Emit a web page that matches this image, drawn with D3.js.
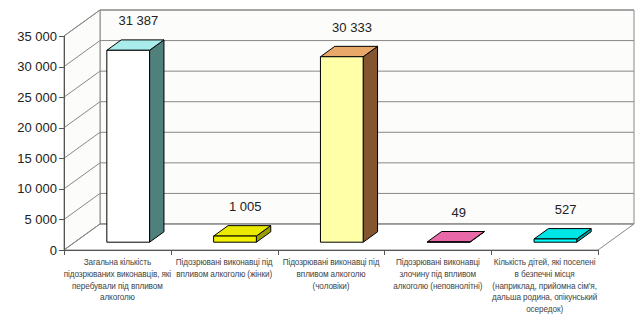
<!DOCTYPE html>
<html>
<head>
<meta charset="utf-8">
<script src="https://cdn.jsdelivr.net/npm/d3@7"></script>
<style>
  body { margin: 0; background: #fff; }
  svg { display: block; font-family: Arial, "Liberation Sans", sans-serif; }
</style>
</head>
<body>
<div id="chart"></div>
<script>
// data
var categories = [
    ["Загальна кількість", "підозрюваних виконавців, які", "перебували під впливом", "алкоголю"],
    ["Підозрювані виконавці під", "впливом алкоголю (жінки)"],
    ["Підозрювані виконавці під", "впливом алкоголю", "(чоловіки)"],
    ["Підозрювані виконавці", "злочину під впливом", "алкоголю (неповнолітні)"],
    ["Кількість дітей, які поселені", "в безпечні місця", "(наприклад, прийомна сім'я,", "дальша родина, опікунський", "осередок)"]
];
var values = [31387, 1005, 30333, 49, 527];
var valueLabels = ["31 387", "1 005", "30 333", "49", "527"];
var yTicks = [0, 5000, 10000, 15000, 20000, 25000, 30000, 35000];
var yTickLabels = ["0", "5 000", "10 000", "15 000", "20 000", "25 000", "30 000", "35 000"];

// face colours: front, top, side
var frontColors = ["#ffffff", "#f2f200", "#ffffa8", "#e86aa8", "#00ffff"];
var topColors = ["#a8ecec", "#eaea00", "#e8a86a", "#e868a8", "#00e6e6"];
var sideColors = ["#4f807b", "#9c9c00", "#835630", "#983c6a", "#009a9a"];

var W = 636, H = 314;
var depthX = 36, depthY = -26;     // offset of back wall from the front plane
var barFront = 0.3, barBack = 0.7; // bar position in depth

var svg = d3.select("#chart").append("svg").attr("width", W).attr("height", H);

var x = d3.scaleBand().domain(d3.range(values.length)).range([64, 598]).paddingInner(0).paddingOuter(0);
var y = d3.scaleLinear().domain([0, 35000]).range([250, 36]);

function pt(px, py, f) { return [px + depthX * f, py + depthY * f]; }
function poly(points) { return points.map(function (p) { return p.join(","); }).join(" "); }

var y0 = y(0), yTop = y(35000);
var x0 = x.range()[0], x1 = x.range()[1];

// walls
svg.append("polygon")
    .attr("points", poly([pt(x0, yTop, 1), pt(x1, yTop, 1), pt(x1, y0, 1), pt(x0, y0, 1)]))
    .attr("fill", "#fcfcfa").attr("stroke", "#888").attr("stroke-width", 1);
svg.append("polygon")
    .attr("points", poly([pt(x0, yTop, 0), pt(x0, yTop, 1), pt(x0, y0, 1), pt(x0, y0, 0)]))
    .attr("fill", "#fcfcfa").attr("stroke", "#888").attr("stroke-width", 1);
svg.append("polygon")
    .attr("points", poly([pt(x0, y0, 0), pt(x1, y0, 0), pt(x1, y0, 1), pt(x0, y0, 1)]))
    .attr("fill", "#ffffff").attr("stroke", "#888").attr("stroke-width", 1);

// gridlines on left and back walls
var grid = svg.append("g").attr("stroke", "#888").attr("stroke-width", 1).attr("fill", "none");
yTicks.forEach(function (t) {
    var a = pt(x0, y(t), 0), b = pt(x0, y(t), 1), c = pt(x1, y(t), 1);
    grid.append("polyline").attr("points", poly([a, b, c]));
});

// y axis on the front plane
var yAxis = svg.append("g");
yAxis.append("line").attr("x1", x0 + 0.5).attr("x2", x0 + 0.5).attr("y1", yTop).attr("y2", y0).attr("stroke", "#555");
yTicks.forEach(function (t, i) {
    yAxis.append("line").attr("x1", x0 - 5).attr("x2", x0).attr("y1", Math.round(y(t)) + 0.5).attr("y2", Math.round(y(t)) + 0.5).attr("stroke", "#555");
    yAxis.append("text").attr("x", x0 - 7).attr("y", y(t) + 4.5)
        .attr("text-anchor", "end").attr("font-size", 13).attr("fill", "#222")
        .text(yTickLabels[i]);
});

// x axis line and ticks
svg.append("line").attr("x1", x0).attr("x2", x1).attr("y1", y0 + 0.5).attr("y2", y0 + 0.5).attr("stroke", "#555");
d3.range(values.length + 1).forEach(function (i) {
    var xx = Math.round(x0 + x.bandwidth() * i) + 0.5;
    svg.append("line").attr("x1", xx).attr("x2", xx).attr("y1", y0).attr("y2", y0 + 5).attr("stroke", "#555");
});

// bars
var bars = svg.selectAll("g.bar").data(values).enter().append("g").attr("class", "bar");
bars.each(function (v, i) {
    var g = d3.select(this);
    var bw = x.bandwidth() * 0.4;
    var l = x(i) + (x.bandwidth() - bw) / 2, r = l + bw;
    var top = y(v), bot = y(0);
    g.append("polygon")
        .attr("points", poly([pt(r, top, barFront), pt(r, top, barBack), pt(r, bot, barBack), pt(r, bot, barFront)]))
        .attr("fill", sideColors[i]).attr("stroke", "#000").attr("stroke-linejoin", "round");
    g.append("polygon")
        .attr("points", poly([pt(l, top, barFront), pt(r, top, barFront), pt(r, top, barBack), pt(l, top, barBack)]))
        .attr("fill", topColors[i]).attr("stroke", "#000").attr("stroke-linejoin", "round");
    g.append("polygon")
        .attr("points", poly([pt(l, top, barFront), pt(r, top, barFront), pt(r, bot, barFront), pt(l, bot, barFront)]))
        .attr("fill", frontColors[i]).attr("stroke", "#000").attr("stroke-linejoin", "round");
    var lp = pt(x(i) + x.bandwidth() / 2 + 3, top, 0.5);
    g.append("text").attr("x", lp[0]).attr("y", pt(0, top, barBack)[1] - 14.5)
        .attr("text-anchor", "middle").attr("font-size", 13).attr("fill", "#222")
        .text(valueLabels[i]);
});

// category labels
categories.forEach(function (lines, i) {
    var t = svg.append("text").attr("text-anchor", "middle").attr("font-size", 8.2)
        .attr("letter-spacing", -0.1).attr("fill", "#444");
    lines.forEach(function (s, j) {
        t.append("tspan").attr("x", x(i) + x.bandwidth() / 2).attr("y", 265 + j * 11.8).text(s);
    });
});
</script>
</body>
</html>
